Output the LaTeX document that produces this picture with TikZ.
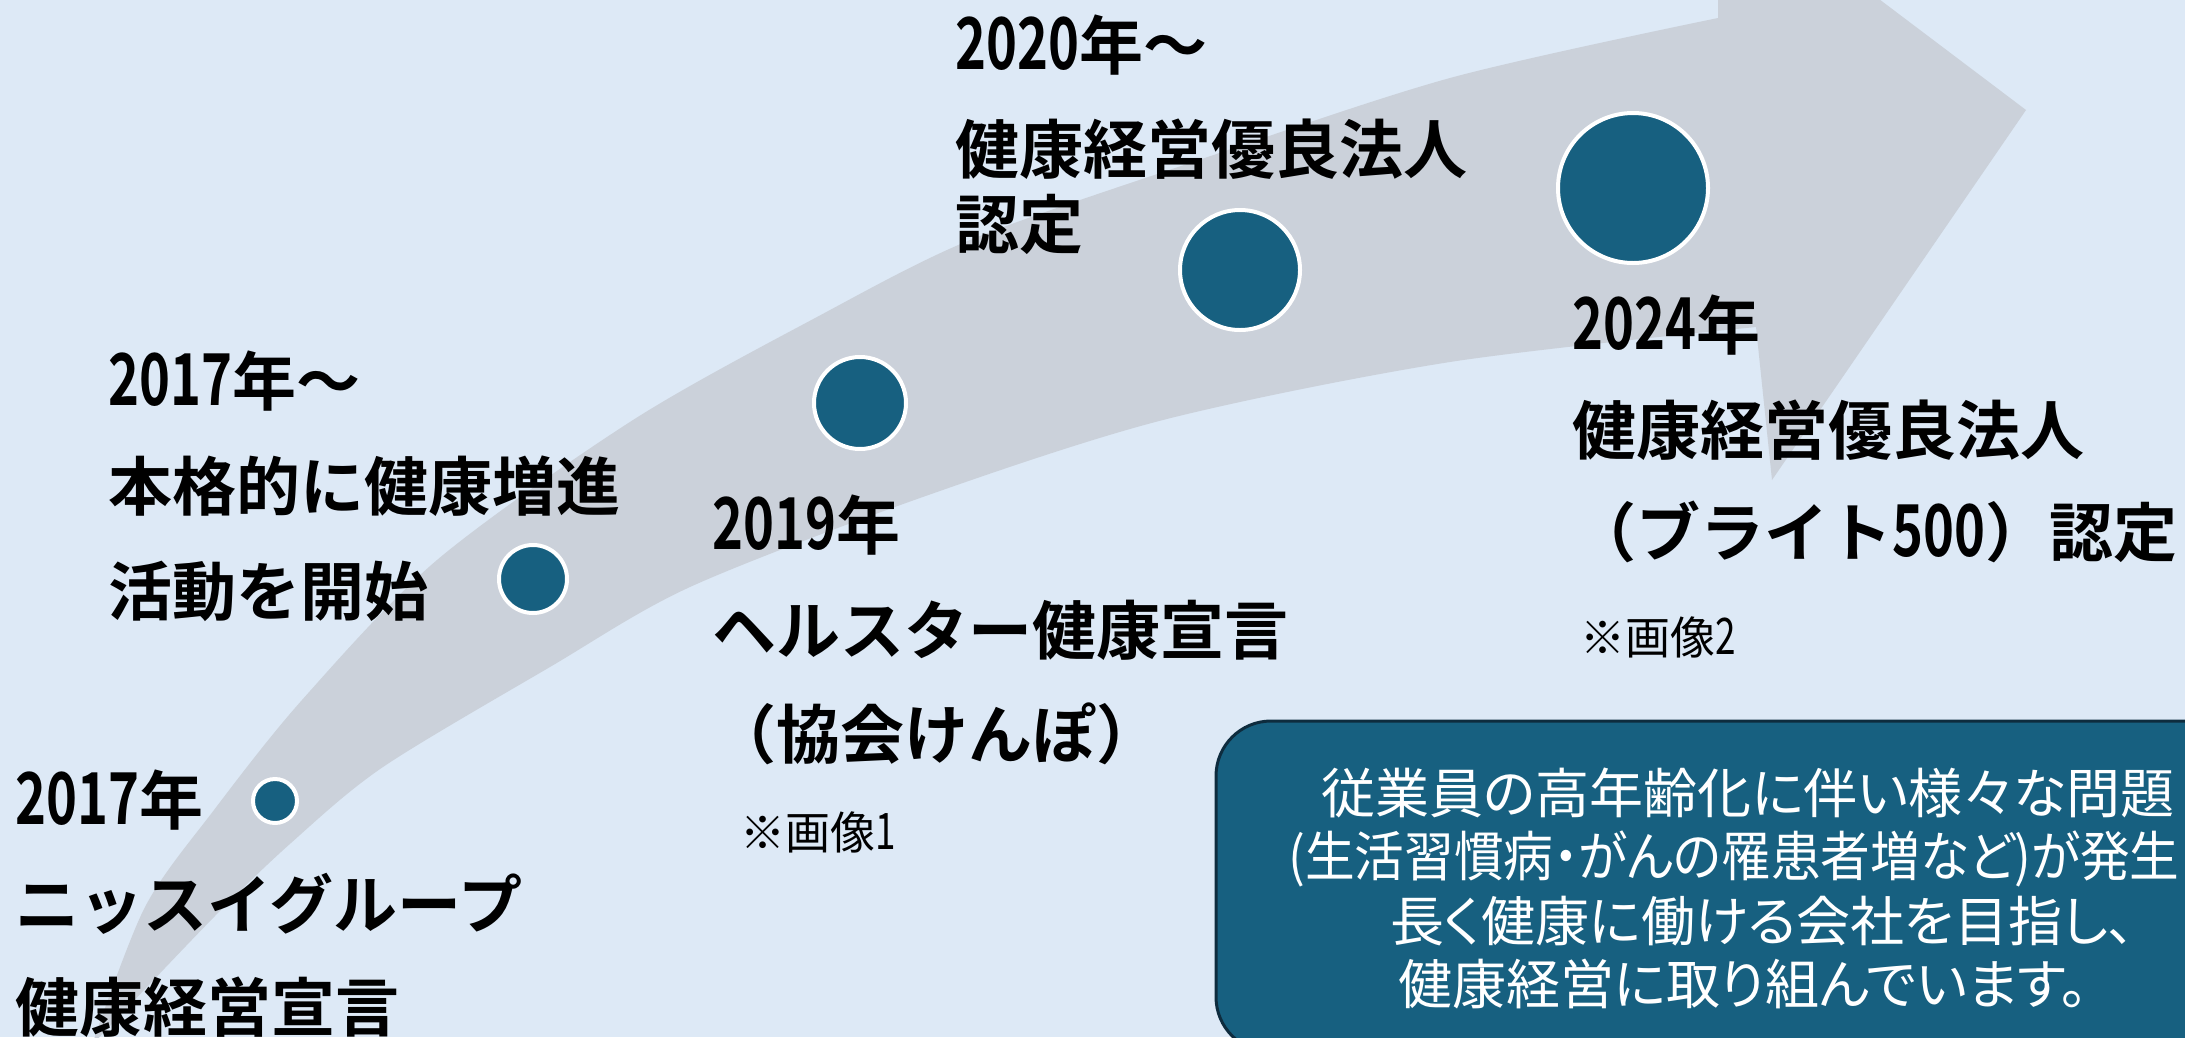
\documentclass[tikz,border=0pt]{standalone}
\usepackage{fontspec}
\usepackage{graphicx}
\usepackage{tikz}
\newfontfamily\jpbold{Noto Sans CJK JP Bold}
\newfontfamily\jpreg{Noto Sans CJK JP}
\newfontfamily\jpmsg{Noto Sans CJK JP}[RawFeature=+palt]
\newcommand{\nar}[1]{\scalebox{0.82}[1.12]{#1}}
\definecolor{bgblue}{RGB}{221,233,246}
\definecolor{bandgrey}{RGB}{203,209,218}
\definecolor{dotblue}{RGB}{23,96,128}
\definecolor{boxedge}{RGB}{14,44,62}

\begin{document}
\begin{tikzpicture}[x=1pt,y=-1pt,
  bigtext/.style={anchor=base west,inner sep=0pt,font=\jpbold\fontsize{64}{64}\selectfont},
  notetext/.style={anchor=base west,inner sep=0pt,font=\jpreg\fontsize{45}{45}\selectfont},
  msgtext/.style={anchor=base,inner sep=0pt,text=white,font=\jpmsg\fontsize{54}{54}\selectfont},
  dotnode/.style={circle,fill=dotblue,draw=white,line width=4pt,inner sep=0pt}]

\useasboundingbox (0,0) rectangle (2185,1037);
\clip (0,0) rectangle (2185,1037);
\fill[bgblue] (0,0) rectangle (2185,1037);

% big curved arrow
\fill[bandgrey] plot[smooth] coordinates {(92,1045) (145,907) (214,810) (302,700) (437,560) (633,420) (817,317) (970,240) (1190,163) (1450,78) (1718,18)}
  -- (1718,-10) -- (1867,-10) -- (2026,110) -- (1772,480) -- (1756,327)
  -- plot[smooth] coordinates {(1756,327) (1450,362) (1163,420) (920,498) (690,587) (550,667) (383,767) (291,843) (214,917) (92,1045)} -- cycle;

% milestones on the arrow
\node[dotnode,minimum size=44pt] (d17) at (275,801) {};
\node[dotnode,minimum size=68pt] (d17b) at (533,579) {};
\node[dotnode,minimum size=92pt] (d19) at (860,403) {};
\node[dotnode,minimum size=120pt] (d20) at (1240,270) {};
\node[dotnode,minimum size=150pt] (d24) at (1633,188) {};

% 2017
\node[bigtext] (y17) at (15,824) {\nar{2017}年};
\node[bigtext] (g17) at (15,928) {ニッスイグループ};
\node[bigtext] (h17) at (15,1031) {健康経営宣言};

\node[bigtext] (y17b) at (108,405) {\nar{2017}年〜};
\node[bigtext] (a17b) at (108,510) {本格的に健康増進};
\node[bigtext] (b17b) at (108,615) {活動を開始};

% 2019
\node[bigtext] (y19) at (712,549) {\nar{2019}年};
\node[bigtext] (a19) at (712,654) {ヘルスター健康宣言};
\node[bigtext] (b19) at (712,758) {（協会けんぽ）};
\node[notetext] (n19) at (740,849) {※画像\nar{1}};

% 2020
\node[bigtext] (y20) at (955,69) {\nar{2020}年〜};
\node[bigtext] (a20) at (955,173) {健康経営優良法人};
\node[bigtext] (b20) at (955,248) {認定};

% 2024
\node[bigtext] (y24) at (1572,349) {\nar{2024}年};
\node[bigtext] (a24) at (1572,454) {健康経営優良法人};
\node[bigtext] (b24) at (1572,556) {（ブライト\nar{500}）認定};
\node[notetext] (n24) at (1580,654) {※画像\nar{2}};

% message box
\draw[boxedge,line width=3pt,fill=dotblue,rounded corners=55pt] (1216,721) rectangle (2260,1052);
\node[msgtext] (m1) at (1748,813) {従業員の高年齢化に伴い様々な問題};
\node[msgtext] (m2) at (1734,876) {\scalebox{0.92}[1]{(生活習慣病・がんの罹患者増など)が発生}};
\node[msgtext,anchor=base west] (m3) at (1390,941) {長く健康に働ける会社を目指し、};
\node[msgtext] (m4) at (1743,1004) {健康経営に取り組んでいます。};

\end{tikzpicture}
\end{document}
